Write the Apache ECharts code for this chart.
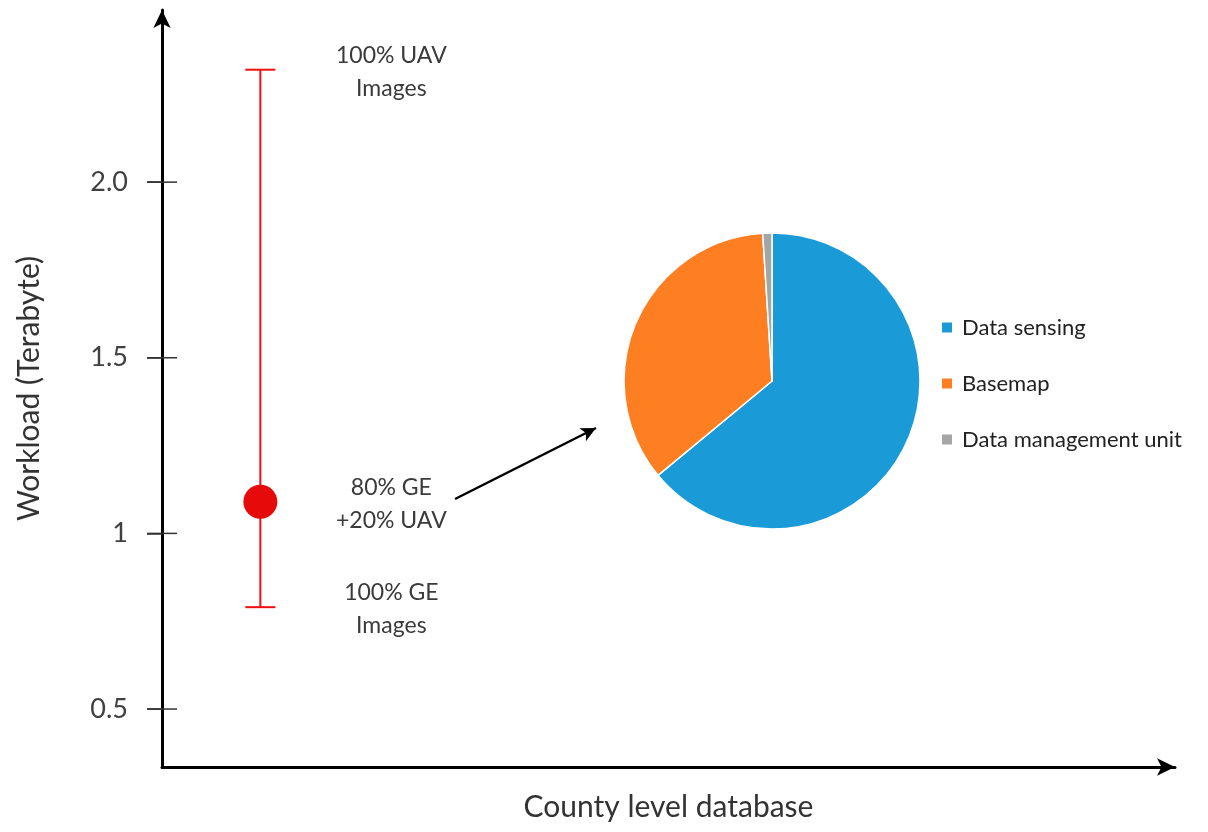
<!DOCTYPE html>
<html>
<head>
<meta charset="utf-8">
<script src="https://cdn.jsdelivr.net/npm/echarts@6/dist/echarts.min.js"></script>
<style>
  html, body { margin: 0; padding: 0; background: #fff; }
  #chart { width: 1208px; height: 832px; }
</style>
</head>
<body>
<div id="chart"></div>
<script>
// Data
const siteX = [1];
const workloadLow = [0.79];
const workloadMid = [1.09];
const workloadHigh = [2.32];
const annotations = ['100% GE\nImages', '80% GE\n+20% UAV', '100% UAV\nImages'];
const yTicks = [0.5, 1, 1.5, 2];
const yTickLabels = ['0.5', '1', '1.5', '2.0'];
const pieNames = ['Data sensing', 'Basemap', 'Data management unit'];
const pieValues = [64, 35, 1];
const pieColors = ['#1a9bd7', '#fd7f22', '#a5a5a5'];

const font = 'Lato, "Open Sans", sans-serif';
const chart = echarts.init(document.getElementById('chart'));

const option = {
    backgroundColor: '#fff',
    animation: false,
    textStyle: { fontFamily: font },
    grid: { left: 162, right: 33, top: 10, bottom: 65 },
    xAxis: {
        type: 'value',
        min: 0,
        max: 10.3,
        name: 'County level database',
        nameLocation: 'middle',
        nameGap: 25,
        nameTextStyle: { fontSize: 30, color: '#333', fontFamily: font },
        axisLine: {
            show: true,
            symbol: ['none', 'arrow'],
            symbolSize: [13, 18],
            lineStyle: { color: '#000', width: 3 }
        },
        axisTick: { show: false },
        axisLabel: { show: false },
        splitLine: { show: false }
    },
    yAxis: {
        type: 'value',
        min: 0.335,
        max: 2.49,
        name: 'Workload (Terabyte)',
        nameLocation: 'middle',
        nameGap: 118,
        nameTextStyle: { fontSize: 30, color: '#333', fontFamily: font },
        axisLine: {
            show: true,
            symbol: ['none', 'arrow'],
            symbolSize: [13, 18],
            lineStyle: { color: '#000', width: 3 }
        },
        axisTick: {
            show: true,
            length: 15,
            customValues: yTicks,
            lineStyle: { color: '#333', width: 1.5 }
        },
        axisLabel: {
            show: true,
            margin: 34,
            customValues: yTicks,
            fontSize: 27,
            color: '#404040',
            fontFamily: font,
            formatter: v => yTickLabels[yTicks.indexOf(v)]
        },
        splitLine: { show: false }
    },
    legend: {
        orient: 'vertical',
        left: 935,
        top: 309,
        itemWidth: 12,
        itemHeight: 12,
        itemGap: 29,
        icon: 'rect',
        data: pieNames,
        textStyle: { fontSize: 22, color: '#222', fontFamily: font, padding: [0, 0, 0, 4], lineHeight: 27 }
    },
    series: [
        {
            // thin bars centred on the axis line, so the ticks cross it
            type: 'scatter',
            name: 'ticks',
            clip: false,
            silent: true,
            z: 10,
            symbol: 'rect',
            symbolSize: [30, 1.5],
            itemStyle: { color: '#333', opacity: 1 },
            data: yTicks.map(v => [0, v])
        },
        {
            type: 'custom',
            name: 'range',
            clip: false,
            silent: true,
            data: siteX.map((x, i) => [x, workloadLow[i], workloadHigh[i]]),
            renderItem: (params, api) => {
                const x = api.value(0);
                const top = api.coord([x, api.value(2)]);
                const bot = api.coord([x, api.value(1)]);
                const cap = 15;
                const ls = { stroke: '#f00f0f', lineWidth: 2 };
                return {
                    type: 'group',
                    children: [
                        { type: 'line', shape: { x1: top[0], y1: top[1], x2: bot[0], y2: bot[1] }, style: ls },
                        { type: 'line', shape: { x1: top[0] - cap, y1: top[1], x2: top[0] + cap, y2: top[1] }, style: ls },
                        { type: 'line', shape: { x1: bot[0] - cap, y1: bot[1], x2: bot[0] + cap, y2: bot[1] }, style: ls }
                    ]
                };
            }
        },
        {
            type: 'scatter',
            name: 'workload',
            symbolSize: 34,
            itemStyle: { color: '#e60a0a', opacity: 1 },
            data: siteX.map((x, i) => [x, workloadMid[i]]),
            markLine: {
                silent: true,
                symbol: ['none', 'arrow'],
                symbolSize: [11, 15],
                label: { show: false },
                lineStyle: { color: '#000', width: 2.5, type: 'solid' },
                data: [[{ x: 455, y: 499 }, { x: 596, y: 428 }]]
            }
        },
        {
            type: 'custom',
            name: 'notes',
            clip: false,
            silent: true,
            data: [
                [siteX[0], workloadLow[0], 0],
                [siteX[0], workloadMid[0], 1],
                [siteX[0], workloadHigh[0], 2]
            ],
            renderItem: (params, api) => {
                const p = api.coord([api.value(0), api.value(1)]);
                return {
                    type: 'text',
                    x: p[0] + 131,
                    y: p[1] + 2,
                    style: {
                        text: annotations[api.value(2)],
                        align: 'center',
                        verticalAlign: 'middle',
                        fontSize: 23,
                        lineHeight: 33,
                        fontFamily: font,
                        fill: '#3a3a3a'
                    }
                };
            }
        },
        {
            type: 'pie',
            name: 'share',
            center: [772, 381],
            radius: 148,
            startAngle: 90,
            clockwise: true,
            label: { show: false },
            labelLine: { show: false },
            itemStyle: { borderColor: '#fff', borderWidth: 1.5 },
            data: pieNames.map((n, i) => ({ name: n, value: pieValues[i], itemStyle: { color: pieColors[i] } }))
        }
    ]
};

chart.setOption(option);
</script>
</body>
</html>
